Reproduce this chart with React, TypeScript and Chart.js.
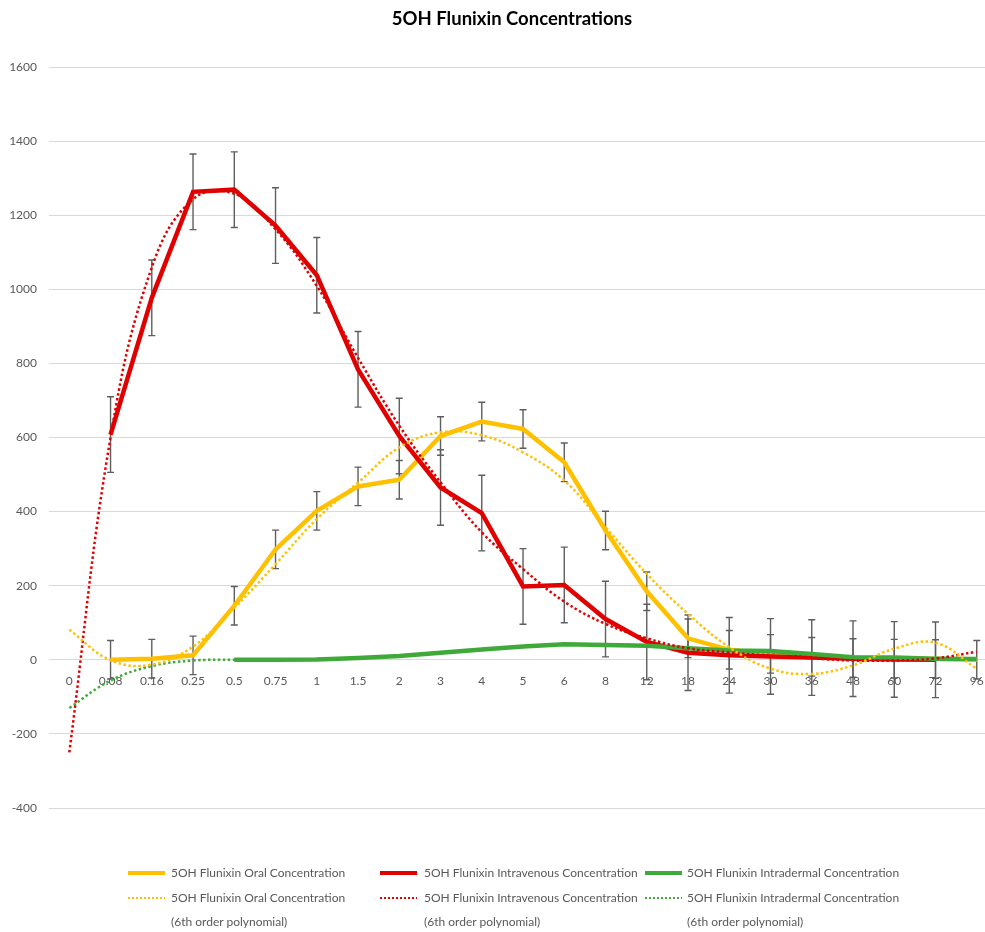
import React, { useEffect, useRef } from 'react';
import { Chart, registerables } from 'chart.js';

Chart.register(...registerables);

const categories = ['0', '0.08', '0.16', '0.25', '0.5', '0.75', '1', '1.5', '2', '3', '4', '5', '6', '8', '12', '18', '24', '30', '36', '48', '60', '72', '96'];

const yMin = -400;
const yMax = 1600;
const yStep = 200;

const oral = [null, 0, 3, 12, 146, 298, 402, 468, 486, 604, 643, 623, 533, 349, 185, 58, 27, 16, 8, 5, 3, 2, 0];
const oralErr = [null, 52, 52, 52, 52, 52, 52, 52, 52, 52, 52, 52, 52, 52, 52, 52, 52, 52, 52, 52, 52, 52, 52];

const intravenous = [null, 608, 977, 1263, 1269, 1172, 1038, 784, 604, 465, 396, 198, 202, 110, 48, 19, 12, 9, 6, 3, 1, 0, null];
const intravenousErr = [null, 102, 102, 102, 102, 102, 102, 102, 102, 102, 102, 102, 102, 102, 102, 102, 102, 102, 102, 102, 102, 102, null];

const intradermal = [null, null, null, null, 0, 0, 1, 5, 10, 19, 28, 36, 42, 40, 38, 31, 25, 24, 16, 7, 6, 3, 2];

const oralTrend = [81, -1, -13, 36, 140, 258, 380, 478, 573, 614, 606, 560, 484, 358, 232, 124, 34, -24, -38, -15, 30, 46, -24];
const intravenousTrend = [-250, 600, 1059, 1243, 1258, 1162, 1009, 815, 632, 479, 344, 245, 157, 97, 58, 31, 20, 11, 4, -2, -2, 4, 22];
const intradermalTrend = [-130, -56, -17, -2, 0, 1, 2, 5, 10, 19, 28, 36, 41, 42, 38, 32, 25, 19, 13, 8, 5, 3, 0];

const YELLOW = '#FFC000';
const RED = '#E00000';
const GREEN = '#3FAA3A';
const TEXT = '#595959';
const GRID = '#D9D9D9';
const FONT = 'Lato, "Open Sans", sans-serif';

const seriesNames = {
  oral: '5OH Flunixin Oral Concentration',
  iv: '5OH Flunixin Intravenous Concentration',
  id: '5OH Flunixin Intradermal Concentration',
};
const trendSuffix = '(6th order polynomial)';

const toPoints = (arr: (number | null)[]) => arr.map((v, i) => ({ x: i, y: v }));

const errorBarPlugin = {
  id: 'errorBars',
  beforeDatasetsDraw(chart: any) {
    const ctx = chart.ctx;
    const xs = chart.scales.x;
    const ys = chart.scales.y;
    ctx.save();
    ctx.strokeStyle = '#5E5E5E';
    ctx.lineWidth = 1.4;
    chart.data.datasets.forEach((ds: any) => {
      if (!ds.errors) return;
      ds.data.forEach((p: any, i: number) => {
        const e = ds.errors[i];
        if (p.y === null || e === null || e === undefined) return;
        const px = xs.getPixelForValue(p.x);
        const top = ys.getPixelForValue(p.y + e);
        const bot = ys.getPixelForValue(p.y - e);
        const cap = 3.5;
        ctx.beginPath();
        ctx.moveTo(px, top);
        ctx.lineTo(px, bot);
        ctx.moveTo(px - cap, top);
        ctx.lineTo(px + cap, top);
        ctx.moveTo(px - cap, bot);
        ctx.lineTo(px + cap, bot);
        ctx.stroke();
      });
    });
    ctx.restore();
  },
};

function LegendSample({ color, dotted, left, top }: { color: string; dotted: boolean; left: number; top: number }) {
  const style: React.CSSProperties = dotted
    ? {
        position: 'absolute',
        left,
        top: top - 1,
        width: 37,
        height: 2,
        background: `repeating-linear-gradient(90deg, ${color} 0px, ${color} 2px, transparent 2px, transparent 4px)`,
      }
    : {
        position: 'absolute',
        left,
        top: top - 2,
        width: 37,
        height: 4,
        background: color,
      };
  return <div style={style} />;
}

function LegendText({ text, left, top }: { text: string; left: number; top: number }) {
  return (
    <div
      style={{
        position: 'absolute',
        left,
        top: top - 8,
        height: 16,
        lineHeight: '16px',
        fontFamily: FONT,
        fontSize: 12,
        color: TEXT,
        whiteSpace: 'nowrap',
      }}
    >
      {text}
    </div>
  );
}

export default function App() {
  const canvasRef = useRef<HTMLCanvasElement | null>(null);

  useEffect(() => {
    if (!canvasRef.current) return;
    const chart = new Chart(canvasRef.current, {
      type: 'line',
      data: {
        datasets: [
          {
            label: seriesNames.oral + ' ' + trendSuffix,
            data: toPoints(oralTrend),
            borderColor: YELLOW,
            borderWidth: 2.5,
            borderDash: [2.5, 2.5],
            pointRadius: 0,
            tension: 0.4,
            order: 0,
          },
          {
            label: seriesNames.iv + ' ' + trendSuffix,
            data: toPoints(intravenousTrend),
            borderColor: RED,
            borderWidth: 2.5,
            borderDash: [2.5, 2.5],
            pointRadius: 0,
            tension: 0.4,
            order: 0,
          },
          {
            label: seriesNames.id + ' ' + trendSuffix,
            data: toPoints(intradermalTrend),
            borderColor: GREEN,
            borderWidth: 2.5,
            borderDash: [2.5, 2.5],
            pointRadius: 0,
            tension: 0.4,
            order: 0,
          },
          {
            label: seriesNames.id,
            data: toPoints(intradermal),
            borderColor: GREEN,
            borderWidth: 4.5,
            pointRadius: 0,
            tension: 0,
            order: 1,
          },
          {
            label: seriesNames.iv,
            data: toPoints(intravenous),
            errors: intravenousErr,
            borderColor: RED,
            borderWidth: 4.5,
            pointRadius: 0,
            tension: 0,
            order: 2,
          } as any,
          {
            label: seriesNames.oral,
            data: toPoints(oral),
            errors: oralErr,
            borderColor: YELLOW,
            borderWidth: 4.5,
            pointRadius: 0,
            tension: 0,
            order: 3,
          } as any,
        ],
      },
      options: {
        animation: false,
        responsive: false,
        events: [],
        layout: { padding: { top: 67, bottom: 124, left: 0, right: 0 } },
        plugins: {
          legend: { display: false },
          title: { display: false },
          tooltip: { enabled: false },
        },
        scales: {
          x: {
            type: 'linear',
            min: -0.492,
            max: 22.2,
            position: { y: 0 } as any,
            afterBuildTicks: (scale: any) => {
              scale.ticks = categories.map((_, i) => ({ value: i }));
            },
            afterFit: (scale: any) => {
              scale.paddingLeft = 0;
              scale.paddingRight = 0;
              scale.paddingTop = 0;
              scale.paddingBottom = 0;
            },
            ticks: {
              autoSkip: false,
              maxRotation: 0,
              padding: 6,
              color: TEXT,
              font: { family: FONT, size: 12 },
              callback: (v: any) => categories[Math.round(Number(v))] ?? '',
            },
            grid: { display: false },
            border: { display: true, color: GRID, width: 1 },
          },
          y: {
            type: 'linear',
            min: yMin,
            max: yMax,
            afterFit: (scale: any) => {
              scale.width = 49;
            },
            ticks: {
              stepSize: yStep,
              padding: 12,
              color: TEXT,
              font: { family: FONT, size: 12 },
              callback: (v: any) => String(v),
            },
            grid: { color: GRID, lineWidth: 1, drawTicks: false },
            border: { display: false },
          },
        },
      },
      plugins: [errorBarPlugin],
    } as any);
    return () => chart.destroy();
  }, []);

  const rows = [873, 897.5, 922];
  const cols = [
    { sample: 128, text: 171, color: YELLOW, name: seriesNames.oral },
    { sample: 380, text: 424, color: RED, name: seriesNames.iv },
    { sample: 645, text: 687, color: GREEN, name: seriesNames.id },
  ];

  return (
    <div style={{ position: 'absolute', left: 0, top: 0, width: 985, height: 932, background: '#fff', overflow: 'hidden' }}>
      <canvas ref={canvasRef} width={985} height={932} style={{ position: 'absolute', left: 0, top: 0, width: 985, height: 932 }} />
      <div
        style={{
          position: 'absolute',
          left: 0,
          width: 1024,
          top: 6,
          height: 24,
          lineHeight: '24px',
          textAlign: 'center',
          fontFamily: FONT,
          fontWeight: 700,
          fontSize: 18.5,
          color: '#000',
        }}
      >
        5OH Flunixin Concentrations
      </div>
      {cols.map((c) => (
        <React.Fragment key={c.name}>
          <LegendSample color={c.color} dotted={false} left={c.sample} top={rows[0]} />
          <LegendText text={c.name} left={c.text} top={rows[0]} />
          <LegendSample color={c.color} dotted={true} left={c.sample} top={rows[1]} />
          <LegendText text={c.name} left={c.text} top={rows[1]} />
          <LegendText text={trendSuffix} left={c.text} top={rows[2]} />
        </React.Fragment>
      ))}
    </div>
  );
}
